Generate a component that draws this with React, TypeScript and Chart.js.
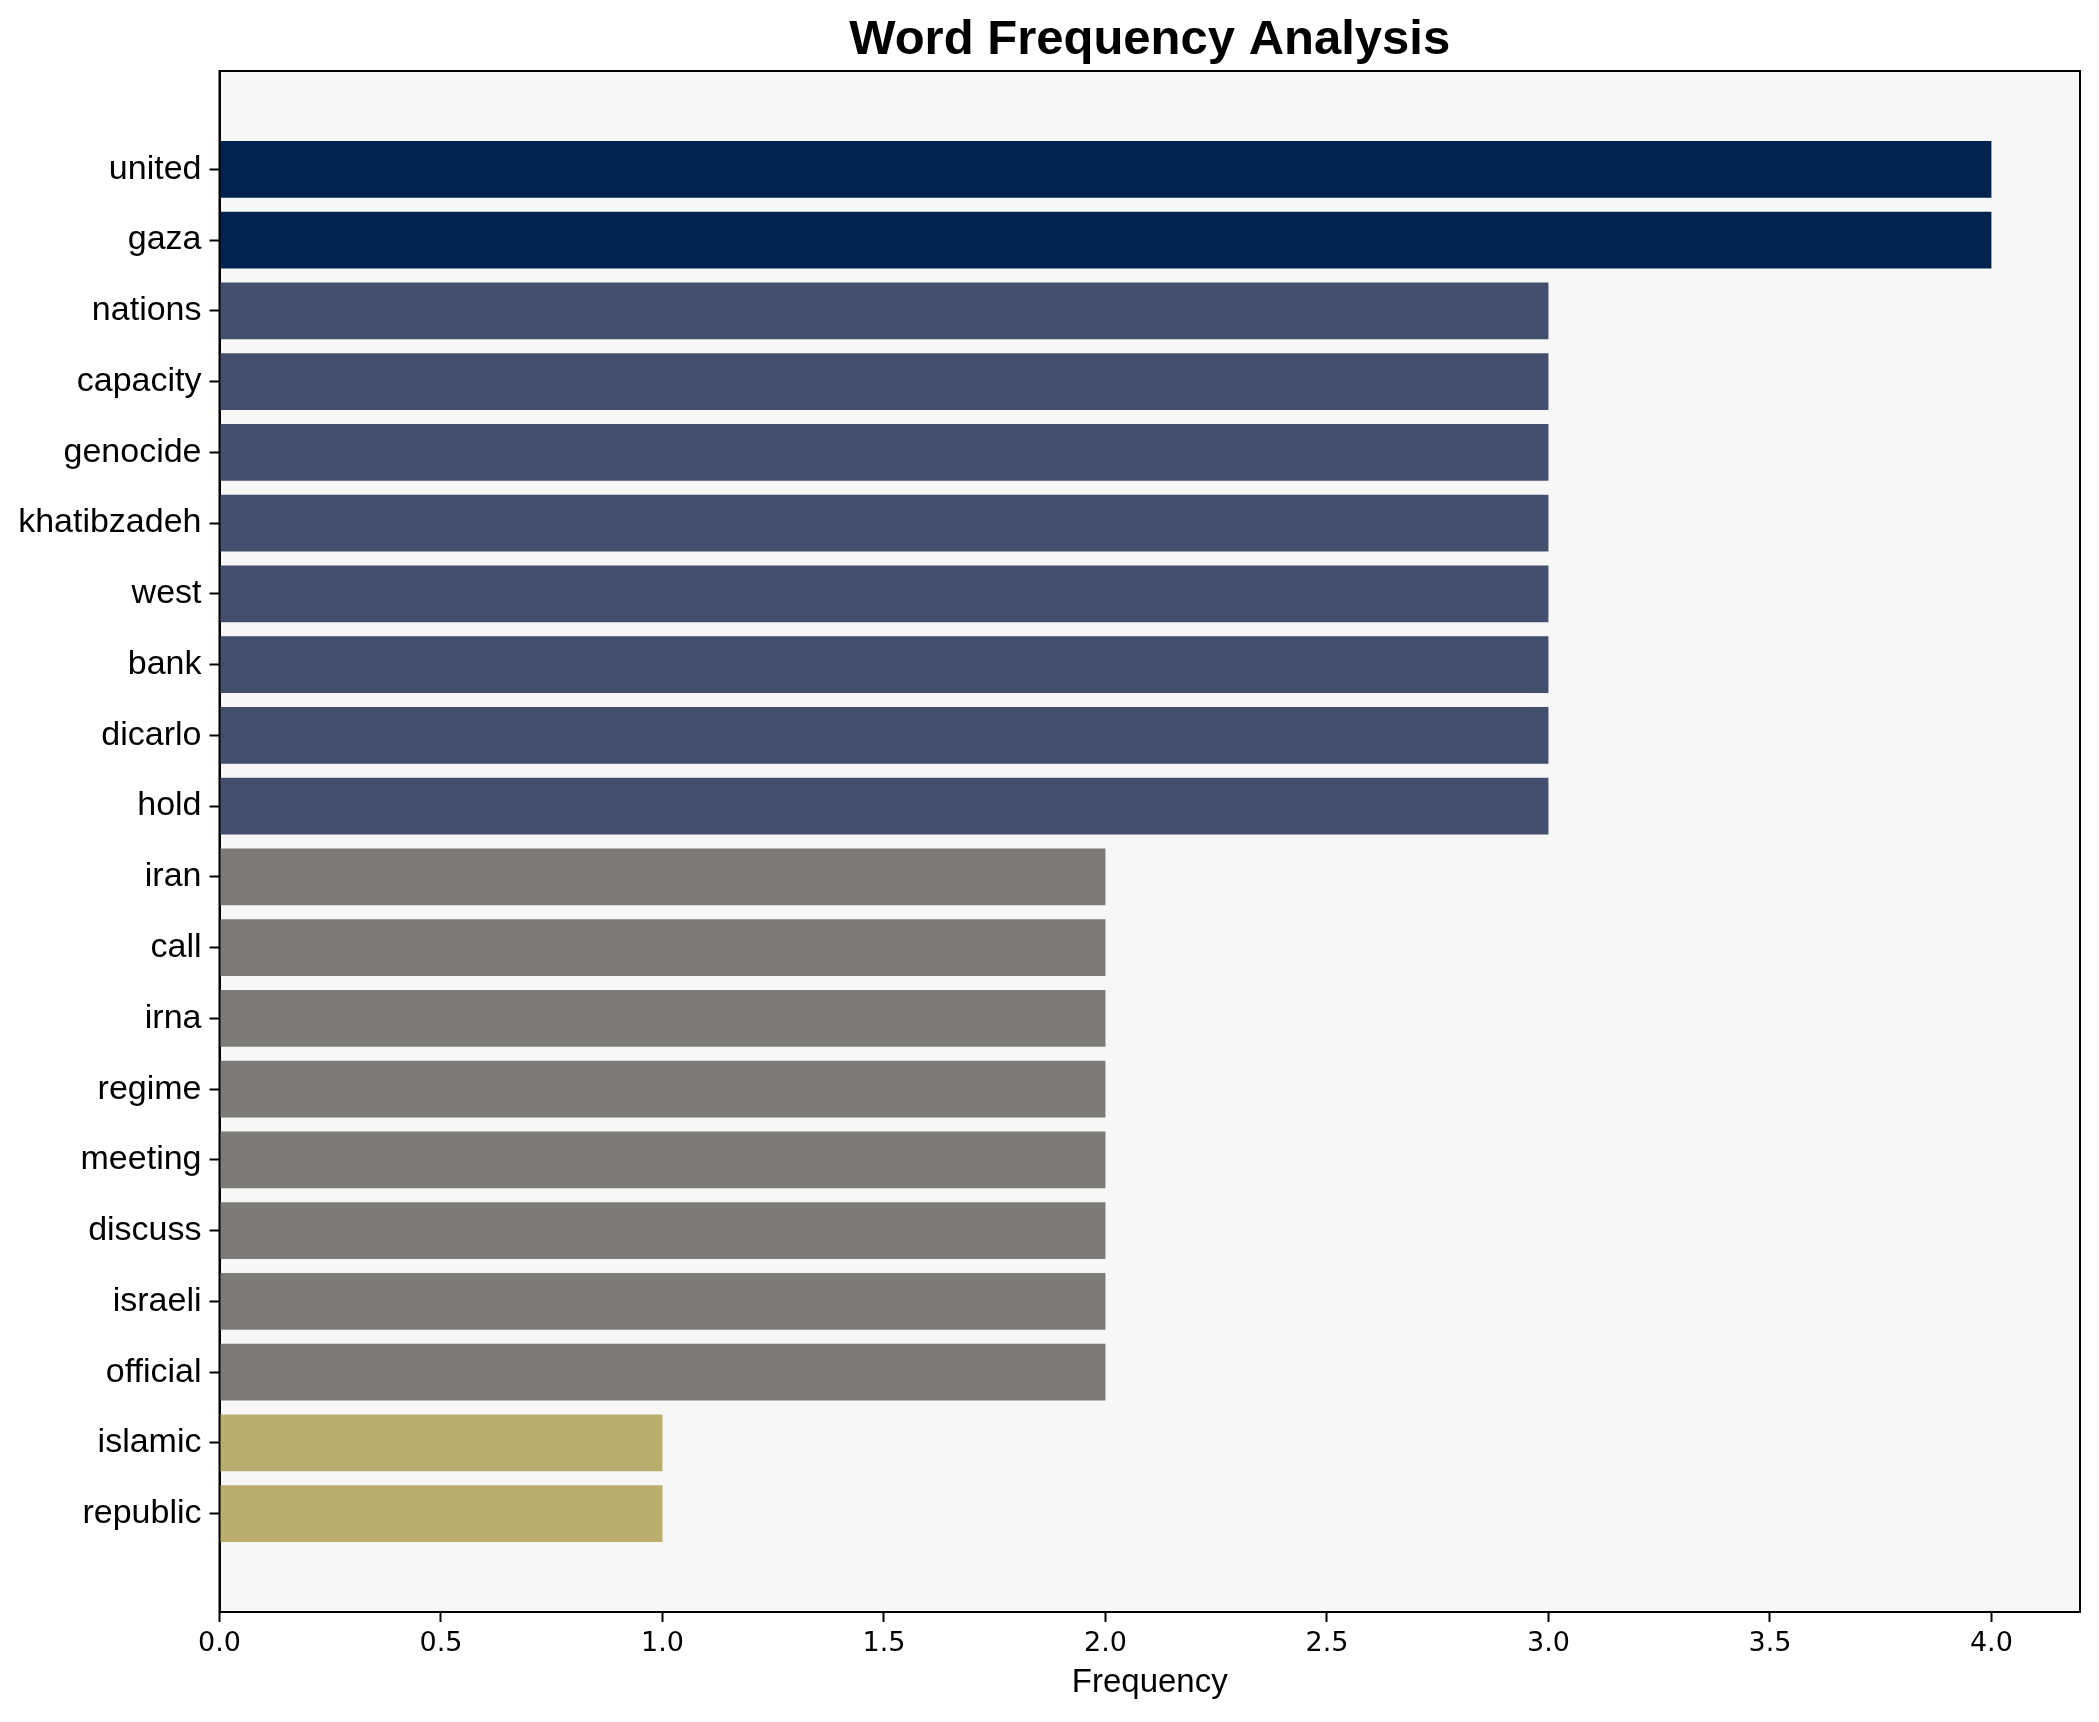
import React, { useEffect, useRef } from "react";
import { Chart, registerables } from "chart.js";

Chart.register(...registerables);

const words = [
  "united", "gaza", "nations", "capacity", "genocide", "khatibzadeh", "west", "bank",
  "dicarlo", "hold", "iran", "call", "irna", "regime", "meeting", "discuss", "israeli",
  "official", "islamic", "republic",
];
const frequencies = [4, 4, 3, 3, 3, 3, 3, 3, 3, 3, 2, 2, 2, 2, 2, 2, 2, 2, 1, 1];
const colorByFrequency: Record<number, string> = {
  4: "#00224E",
  3: "#434F6C",
  2: "#7C7B78",
  1: "#BAAD6D",
};
const xTicks = [0, 0.5, 1, 1.5, 2, 2.5, 3, 3.5, 4];
const titleText = "Word Frequency Analysis";
const xLabelText = "Frequency";

const W = 2099;
const H = 1722;

export default function App() {
  const ref = useRef<HTMLCanvasElement | null>(null);
  useEffect(() => {
    if (!ref.current) return;
    const framePlugin = {
      id: "frame",
      beforeDraw(chart: any) {
        const { ctx, chartArea } = chart;
        ctx.save();
        ctx.fillStyle = "#ffffff";
        ctx.fillRect(0, 0, chart.width, chart.height);
        ctx.fillStyle = "#F7F7F7";
        ctx.fillRect(chartArea.left, chartArea.top, chartArea.right - chartArea.left, chartArea.bottom - chartArea.top);
        ctx.restore();
      },
      afterDraw(chart: any) {
        const { ctx, chartArea } = chart;
        ctx.save();
        ctx.strokeStyle = "#000";
        ctx.lineWidth = 2;
        ctx.strokeRect(chartArea.left, chartArea.top, chartArea.right - chartArea.left, chartArea.bottom - chartArea.top);
        ctx.fillStyle = "#000";
        ctx.textAlign = "center";
        ctx.textBaseline = "middle";
        ctx.font = "bold 49px 'Liberation Sans', Arial, sans-serif";
        ctx.fillText(titleText, (chartArea.left + chartArea.right) / 2, 40);
        ctx.font = "33px 'Liberation Sans', Arial, sans-serif";
        ctx.fillText(xLabelText, (chartArea.left + chartArea.right) / 2, 1683);
        ctx.restore();
      },
    };
    const chart = new Chart(ref.current, {
      type: "bar",
      data: {
        datasets: [
          {
            data: frequencies.map((v, i) => ({ x: v, y: i })),
            backgroundColor: frequencies.map((v) => colorByFrequency[v]),
            barPercentage: 0.8,
            categoryPercentage: 1.0,
            borderWidth: 0,
          },
        ],
      },
      options: {
        indexAxis: "y",
        animation: false,
        responsive: false,
        maintainAspectRatio: false,
        layout: { padding: { top: 71, right: 19, left: 0, bottom: 0 } },
        plugins: { legend: { display: false }, tooltip: { enabled: false }, title: { display: false } },
        scales: {
          x: {
            type: "linear",
            min: 0,
            max: 4.2,
            offset: false,
            afterBuildTicks(scale: any) {
              scale.ticks = xTicks.map((v) => ({ value: v }));
            },
            afterFit(scale: any) {
              scale.height = 110;
            },
            ticks: {
              color: "#000",
              padding: 6,
              font: { family: "'DejaVu Sans'", size: 27 },
              callback: (v: any) => Number(v).toFixed(1),
            },
            grid: { offset: false, drawOnChartArea: false, drawTicks: true, tickLength: 10, tickWidth: 2, tickColor: "#000" },
            border: { display: true, color: "#000", width: 2 },
          },
          y: {
            type: "linear",
            reverse: true,
            min: -1.39,
            max: 20.39,
            offset: false,
            afterBuildTicks(scale: any) {
              scale.ticks = words.map((_, i) => ({ value: i }));
            },
            afterFit(scale: any) {
              scale.width = 219.5;
            },
            ticks: {
              color: "#000",
              padding: 8,
              autoSkip: false,
              font: { family: "'Liberation Sans', Arial", size: 34 },
              callback: (v: any) => words[Math.round(Number(v))] ?? "",
            },
            grid: { offset: false, drawOnChartArea: false, drawTicks: true, tickLength: 10, tickWidth: 2, tickColor: "#000" },
            border: { display: true, color: "#000", width: 2 },
          },
        },
      },
      plugins: [framePlugin],
    } as any);
    return () => chart.destroy();
  }, []);
  return (
    <div style={{ position: "absolute", left: 0, top: 0, width: W, height: H }}>
      <canvas ref={ref} width={W} height={H} style={{ width: W, height: H, display: "block" }} />
    </div>
  );
}
